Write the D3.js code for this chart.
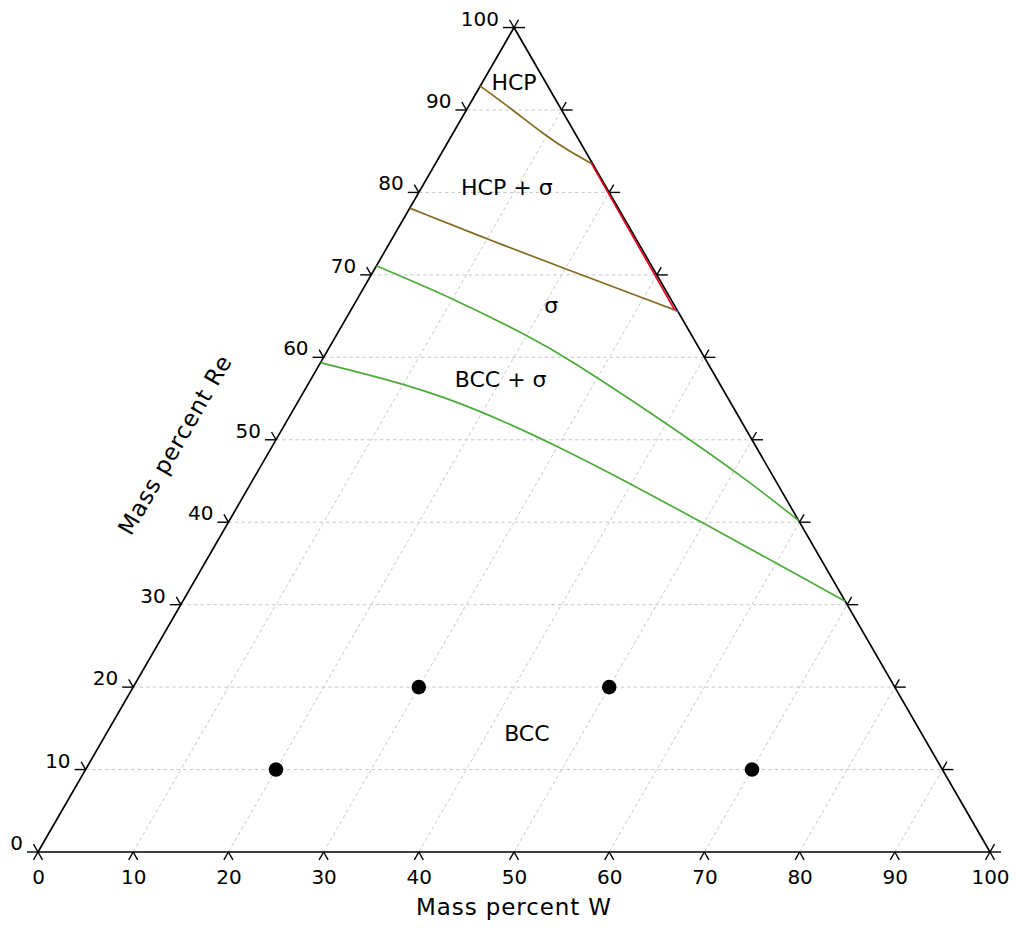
<!DOCTYPE html>
<html><head><meta charset="utf-8">
<script src="https://cdn.jsdelivr.net/npm/d3@7"></script>
<style>
body{margin:0;background:#fff;}
svg{display:block;font-family:"DejaVu Sans",sans-serif;}
</style></head><body>
<svg id="chart" width="1016" height="928"></svg>
<script>
// ---- data (W mass %, Re mass %) ----
const wTicks = [0,10,20,30,40,50,60,70,80,90,100];
const reTicks = [0,10,20,30,40,50,60,70,80,90,100];
const gridValues = [10,20,30,40,50,60,70,80,90];

const hcpBoundaryW  = [0, 4.4, 10.0, 13.3, 16.4];
const hcpBoundaryRe = [92.9, 90.3, 86.8, 85.0, 83.5];

const sigmaUpperW  = [0, 10.4, 19.3, 34.0];
const sigmaUpperRe = [78.1, 74.2, 71.0, 65.75];

const redEdgeW  = [16.4, 34.0];
const redEdgeRe = [83.5, 65.75];

const purpleW  = [34.0, 34.5];
const purpleRe = [65.75, 65.5];

const sigmaLowerW  = [0, 10.5, 20.4, 25.5, 39.5, 51.5, 59.8];
const sigmaLowerRe = [71.1, 66.95, 62.5, 60.0, 52.3, 45.4, 40.2];

const bccBoundaryW  = [0, 8.35, 15.4, 22.7, 30.3, 39.8, 50.0, 60.1, 69.6];
const bccBoundaryRe = [59.35, 57.25, 55.1, 52.3, 49.06, 44.72, 39.87, 35.0, 30.4];

const dotsW  = [20, 30, 50, 70];
const dotsRe = [10, 20, 20, 10];

const phaseNames = ["HCP", "HCP + σ", "σ", "BCC + σ", "BCC"];
const phaseW  = [3.8, 9.4, 21.2, 20.4, 44.6];
const phaseRe = [92.4, 79.7, 65.4, 56.4, 13.5];

const xTitle = "Mass percent W";
const yTitle = "Mass percent Re";

// ---- layout ----
const svg = d3.select("#chart");
const left = 38, right = 990, base = 852;
const side = right - left;
const topY = base - side * Math.sqrt(3) / 2;
const xs = d3.scaleLinear().domain([0, 100]).range([left, right]);   // W axis / projected x
const ys = d3.scaleLinear().domain([0, 100]).range([base, topY]);    // Re axis
const P = (w, r) => [xs(w + r / 2), ys(r)];
const zip = (a, b) => a.map((v, i) => [v, b[i]]);

// grid
const grid = svg.append("g").attr("stroke", "#c8c8c8").attr("stroke-width", 1)
  .attr("stroke-dasharray", "3.5,3").attr("fill", "none");
gridValues.forEach(v => {
  const a = P(0, v), b = P(100 - v, v);
  grid.append("line").attr("x1", a[0]).attr("y1", a[1]).attr("x2", b[0]).attr("y2", b[1]);
  const c = P(v, 0), d = P(v, 100 - v);
  grid.append("line").attr("x1", c[0]).attr("y1", c[1]).attr("x2", d[0]).attr("y2", d[1]);
});

// triangle
const tri = [P(0, 0), P(100, 0), P(0, 100)];
svg.append("path").attr("d", d3.line()(tri) + "Z")
  .attr("fill", "none").attr("stroke", "#000").attr("stroke-width", 1.7);

// ticks
const h = 11, dl = 9, s3 = Math.sqrt(3) / 2;
const tg = svg.append("g").attr("stroke", "#000").attr("stroke-width", 1.4).attr("fill", "none");
const seg = (p, dx, dy) => tg.append("line").attr("x1", p[0]).attr("y1", p[1])
  .attr("x2", p[0] + dx).attr("y2", p[1] + dy);
wTicks.forEach(t => {
  const p = P(t, 0);
  seg(p, -0.5 * dl, s3 * dl);
  seg(p, 0.5 * dl, s3 * dl);
});
reTicks.forEach(t => {
  const p = P(0, t);
  seg(p, -h, 0);
  seg(p, -0.5 * dl, -s3 * dl);
  const q = P(100 - t, t);
  seg(q, h, 0);
  seg(q, 0.5 * dl, -s3 * dl);
});

// bottom axis labels
const axis = d3.axisBottom(xs).tickValues(wTicks).tickSizeInner(0).tickSizeOuter(0).tickPadding(18);
const ax = svg.append("g").attr("transform", `translate(0,${base})`).call(axis);
ax.select(".domain").remove();
ax.selectAll("text").attr("font-size", 20).attr("font-family", "DejaVu Sans").attr("fill", "#000");

// left axis labels
svg.append("g").selectAll("text").data(reTicks).join("text")
  .attr("x", d => P(0, d)[0] - 15)
  .attr("y", d => P(0, d)[1] - 2)
  .attr("text-anchor", "end")
  .attr("font-size", 20).attr("fill", "#000")
  .text(d => d);

// phase boundaries
const smooth = d3.line().curve(d3.curveBasis);
const straight = d3.line();
const proj = (W, R) => zip(W, R).map(d => P(d[0], d[1]));
const curves = [
  [hcpBoundaryW, hcpBoundaryRe, "#85691f", smooth],
  [sigmaUpperW, sigmaUpperRe, "#85691f", smooth],
  [sigmaLowerW, sigmaLowerRe, "#4cab3a", smooth],
  [bccBoundaryW, bccBoundaryRe, "#4cab3a", smooth],
  [redEdgeW, redEdgeRe, "#e8001c", straight],
  [purpleW, purpleRe, "#a040c0", straight]
];
curves.forEach(c => {
  svg.append("path").attr("d", c[3](proj(c[0], c[1])))
    .attr("fill", "none").attr("stroke", c[2]).attr("stroke-width", 1.7);
});

// points
svg.append("g").selectAll("circle").data(zip(dotsW, dotsRe)).join("circle")
  .attr("cx", d => P(d[0], d[1])[0])
  .attr("cy", d => P(d[0], d[1])[1])
  .attr("r", 7.3).attr("fill", "#000");

// phase labels
svg.append("g").selectAll("text").data(phaseNames).join("text")
  .attr("x", (d, i) => P(phaseW[i], phaseRe[i])[0])
  .attr("y", (d, i) => P(phaseW[i], phaseRe[i])[1])
  .attr("text-anchor", "middle").attr("font-size", 22).attr("fill", "#000")
  .text(d => d);

// axis titles
svg.append("text").attr("x", xs(50)).attr("y", base + 63)
  .attr("text-anchor", "middle").attr("font-size", 23).attr("letter-spacing", 0.9)
  .attr("fill", "#000").text(xTitle);
svg.append("text")
  .attr("transform", `translate(${left + 137},${ys(49.4)}) rotate(-60)`)
  .attr("text-anchor", "middle").attr("dominant-baseline", "central")
  .attr("font-size", 23).attr("letter-spacing", 0.9).attr("fill", "#000").text(yTitle);
</script>
</body></html>
